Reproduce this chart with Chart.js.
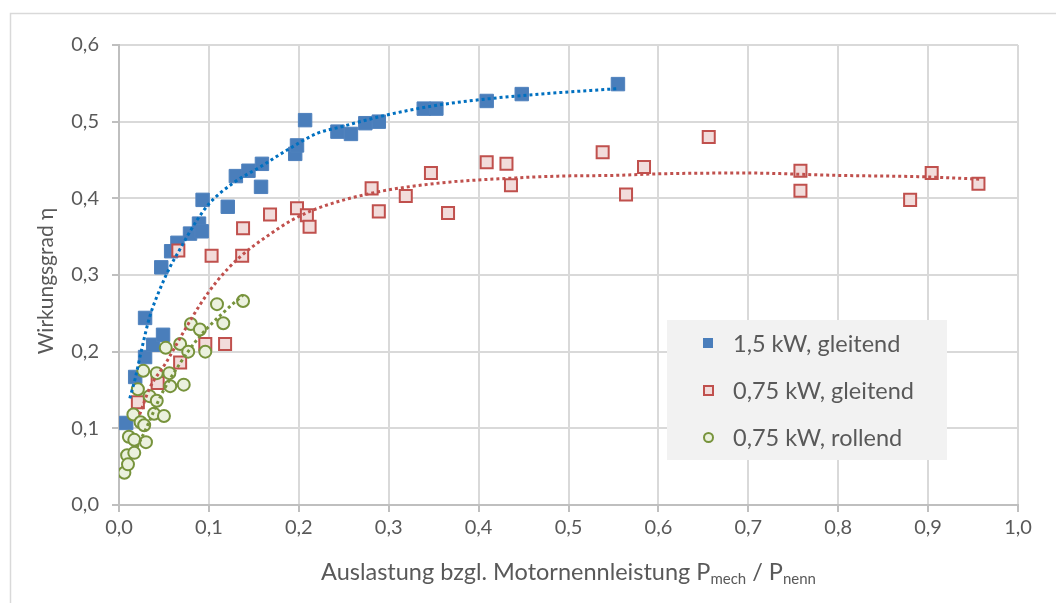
<!DOCTYPE html>
<html>
<head>
<meta charset="utf-8">
<script src="https://cdn.jsdelivr.net/npm/chart.js"></script>
<style>
  html, body { margin: 0; padding: 0; background: #fff; }
  #wrap { width: 1056px; height: 603px; position: relative; }
</style>
</head>
<body>
<div id="wrap"><canvas id="chart" width="1056" height="603"></canvas></div>
<script>
// Messwerte 1,5 kW, gleitend
const blueX = [0.008, 0.018, 0.029, 0.029, 0.038, 0.049, 0.047, 0.058, 0.065, 0.079, 0.089, 0.092, 0.093, 0.121, 0.130,
  0.144, 0.159, 0.158, 0.196, 0.198, 0.207, 0.243, 0.258, 0.274, 0.289, 0.339, 0.353, 0.409, 0.448, 0.555];
const blueY = [0.107, 0.167, 0.244, 0.193, 0.209, 0.222, 0.310, 0.331, 0.342, 0.354, 0.367, 0.357, 0.398, 0.389, 0.429,
  0.436, 0.445, 0.415, 0.458, 0.469, 0.502, 0.487, 0.484, 0.498, 0.500, 0.517, 0.517, 0.527, 0.536, 0.549];

// Messwerte 0,75 kW, gleitend
const redX = [0.021, 0.043, 0.066, 0.068, 0.096, 0.118, 0.103, 0.137, 0.138, 0.168, 0.198, 0.209, 0.212, 0.281, 0.289,
  0.319, 0.347, 0.366, 0.409, 0.431, 0.436, 0.538, 0.564, 0.584, 0.656, 0.758, 0.758, 0.880, 0.904, 0.956];
const redY = [0.134, 0.159, 0.332, 0.186, 0.210, 0.210, 0.325, 0.325, 0.361, 0.379, 0.387, 0.378, 0.363, 0.413, 0.383,
  0.403, 0.433, 0.381, 0.447, 0.445, 0.417, 0.460, 0.405, 0.441, 0.480, 0.436, 0.410, 0.398, 0.433, 0.419];

// Messwerte 0,75 kW, rollend
const greenX = [0.006, 0.009, 0.010, 0.017, 0.011, 0.017, 0.030, 0.016, 0.024, 0.028, 0.039, 0.050, 0.034, 0.042, 0.021,
  0.057, 0.072, 0.027, 0.042, 0.056, 0.052, 0.068, 0.077, 0.096, 0.080, 0.090, 0.116, 0.109, 0.138];
const greenY = [0.042, 0.065, 0.053, 0.068, 0.089, 0.085, 0.082, 0.118, 0.108, 0.104, 0.119, 0.116, 0.142, 0.136, 0.151,
  0.155, 0.157, 0.175, 0.172, 0.172, 0.205, 0.210, 0.200, 0.200, 0.236, 0.229, 0.237, 0.262, 0.266];

// Trendlinien
const blueTrendX = [0.012, 0.018, 0.025, 0.034, 0.045, 0.057, 0.066, 0.087, 0.101, 0.127, 0.157, 0.187, 0.221, 0.246,
  0.299, 0.357, 0.412, 0.468, 0.554];
const blueTrendY = [0.139, 0.165, 0.202, 0.245, 0.280, 0.311, 0.330, 0.372, 0.394, 0.420, 0.441, 0.463, 0.485, 0.493,
  0.509, 0.522, 0.530, 0.536, 0.543];
const redTrendX = [0.023, 0.034, 0.053, 0.071, 0.090, 0.109, 0.134, 0.164, 0.193, 0.221, 0.282, 0.357, 0.431, 0.490,
  0.554, 0.601, 0.697, 0.797, 0.897, 0.957];
const redTrendY = [0.118, 0.152, 0.187, 0.224, 0.261, 0.292, 0.323, 0.350, 0.372, 0.387, 0.407, 0.420, 0.426, 0.429,
  0.430, 0.432, 0.433, 0.430, 0.428, 0.425];
const greenTrendX = [0.020, 0.031, 0.048, 0.068, 0.087, 0.101, 0.116, 0.138];
const greenTrendY = [0.075, 0.102, 0.146, 0.185, 0.216, 0.234, 0.251, 0.274];

const seriesLabels = ['1,5 kW, gleitend', '0,75 kW, gleitend', '0,75 kW, rollend'];
const xTicks = [0, 0.1, 0.2, 0.3, 0.4, 0.5, 0.6, 0.7, 0.8, 0.9, 1.0];
const yTicks = [0, 0.1, 0.2, 0.3, 0.4, 0.5, 0.6];

const FONT = 'Lato, "Open Sans", sans-serif';
const TEXT = '#595959';

const zip = (xs, ys) => xs.map((x, i) => ({ x, y: ys[i] }));
const comma = v => v.toFixed(1).replace('.', ',');

const trend = (xs, ys, color) => ({
  type: 'line',
  data: zip(xs, ys),
  borderColor: color,
  borderWidth: 3,
  borderDash: [3, 3],
  borderCapStyle: 'butt',
  pointRadius: 0,
  fill: false,
  cubicInterpolationMode: 'monotone',
  order: 0
});

// Rahmen, Achsentitel und Legende
const decorations = {
  id: 'decorations',
  afterDraw(chart) {
    const ctx = chart.ctx;
    const area = chart.chartArea;
    ctx.save();

    // Diagrammrahmen
    ctx.strokeStyle = '#d9d9d9';
    ctx.lineWidth = 1.5;
    ctx.beginPath();
    ctx.moveTo(10.5, 603);
    ctx.lineTo(10.5, 13.5);
    ctx.lineTo(1056, 13.5);
    ctx.stroke();

    ctx.fillStyle = TEXT;
    ctx.textBaseline = 'middle';

    // y-Achsentitel
    ctx.font = '21px ' + FONT;
    ctx.save();
    ctx.translate(46, (area.top + area.bottom) / 2 + 6);
    ctx.rotate(-Math.PI / 2);
    ctx.textAlign = 'center';
    ctx.fillText('Wirkungsgrad η', 0, 0);
    ctx.restore();

    // x-Achsentitel mit Indizes
    const parts = [
      ['Auslastung bzgl. Motornennleistung P', false],
      ['mech', true],
      [' / P', false],
      ['nenn', true]
    ];
    const bigFont = '23.5px ' + FONT;
    const subFont = '15px ' + FONT;
    let total = 0;
    parts.forEach(([t, sub]) => {
      ctx.font = sub ? subFont : bigFont;
      total += ctx.measureText(t).width;
    });
    let px = (area.left + area.right) / 2 - total / 2;
    const py = 572;
    ctx.textAlign = 'left';
    parts.forEach(([t, sub]) => {
      ctx.font = sub ? subFont : bigFont;
      ctx.fillText(t, px, sub ? py + 7 : py);
      px += ctx.measureText(t).width;
    });

    // Legende
    ctx.fillStyle = '#f2f2f2';
    ctx.fillRect(667, 320, 280, 140);
    const rows = [343, 390, 437];
    ctx.font = '23.5px ' + FONT;
    rows.forEach((ry, i) => {
      ctx.lineWidth = 2;
      if (i === 0) {
        ctx.fillStyle = '#4a7ebb';
        ctx.fillRect(703, ry - 5, 10, 10);
      } else if (i === 1) {
        ctx.fillStyle = '#f2dcdb';
        ctx.strokeStyle = '#c0504d';
        ctx.fillRect(704, ry - 4, 9, 9);
        ctx.strokeRect(704, ry - 4, 9, 9);
      } else {
        ctx.fillStyle = '#ebf1de';
        ctx.strokeStyle = '#77933c';
        ctx.beginPath();
        ctx.arc(708.5, ry + 0.5, 4.5, 0, Math.PI * 2);
        ctx.fill();
        ctx.stroke();
      }
      ctx.fillStyle = TEXT;
      ctx.fillText(seriesLabels[i], 733, ry + 1);
    });

    ctx.restore();
  }
};

new Chart(document.getElementById('chart'), {
  type: 'scatter',
  data: {
    datasets: [
      trend(greenTrendX, greenTrendY, '#77933c'),
      trend(redTrendX, redTrendY, '#c0504d'),
      trend(blueTrendX, blueTrendY, '#0070c0'),
      {
        label: seriesLabels[2],
        data: zip(greenX, greenY),
        pointStyle: 'circle',
        pointRadius: 6,
        pointBorderWidth: 2,
        backgroundColor: '#ebf1de',
        borderColor: '#77933c',
        order: 1
      },
      {
        label: seriesLabels[1],
        data: zip(redX, redY),
        pointStyle: 'rect',
        pointRadius: 8.5,
        pointBorderWidth: 2,
        backgroundColor: '#f2dcdb',
        borderColor: '#c0504d',
        order: 2
      },
      {
        label: seriesLabels[0],
        data: zip(blueX, blueY),
        pointStyle: 'rect',
        pointRadius: 9.5,
        pointBorderWidth: 1,
        backgroundColor: '#4a7ebb',
        borderColor: '#4f81bd',
        order: 3
      }
    ]
  },
  options: {
    responsive: false,
    animation: false,
    layout: { padding: { left: 0, top: 45, right: 38, bottom: 0 } },
    plugins: {
      legend: { display: false },
      tooltip: { enabled: false }
    },
    scales: {
      x: {
        type: 'linear',
        min: 0,
        max: 1,
        afterBuildTicks: s => { s.ticks = xTicks.map(v => ({ value: v })); },
        afterFit: s => { s.height = 98; },
        ticks: {
          callback: v => comma(v),
          color: TEXT,
          font: { family: FONT, size: 20 },
          padding: 4,
          maxRotation: 0,
          autoSkip: false
        },
        grid: { color: '#d9d9d9', lineWidth: 2, tickColor: '#bfbfbf', tickLength: 7 },
        border: { color: '#bfbfbf', width: 2 }
      },
      y: {
        type: 'linear',
        min: 0,
        max: 0.6,
        afterBuildTicks: s => { s.ticks = yTicks.map(v => ({ value: v })); },
        afterFit: s => { s.width = 119; },
        ticks: {
          callback: v => comma(v),
          color: TEXT,
          font: { family: FONT, size: 20 },
          padding: 13,
          autoSkip: false
        },
        grid: { color: '#d9d9d9', lineWidth: 2, tickColor: '#bfbfbf', tickLength: 7 },
        border: { color: '#bfbfbf', width: 2 }
      }
    }
  },
  plugins: [decorations]
});
</script>
</body>
</html>
